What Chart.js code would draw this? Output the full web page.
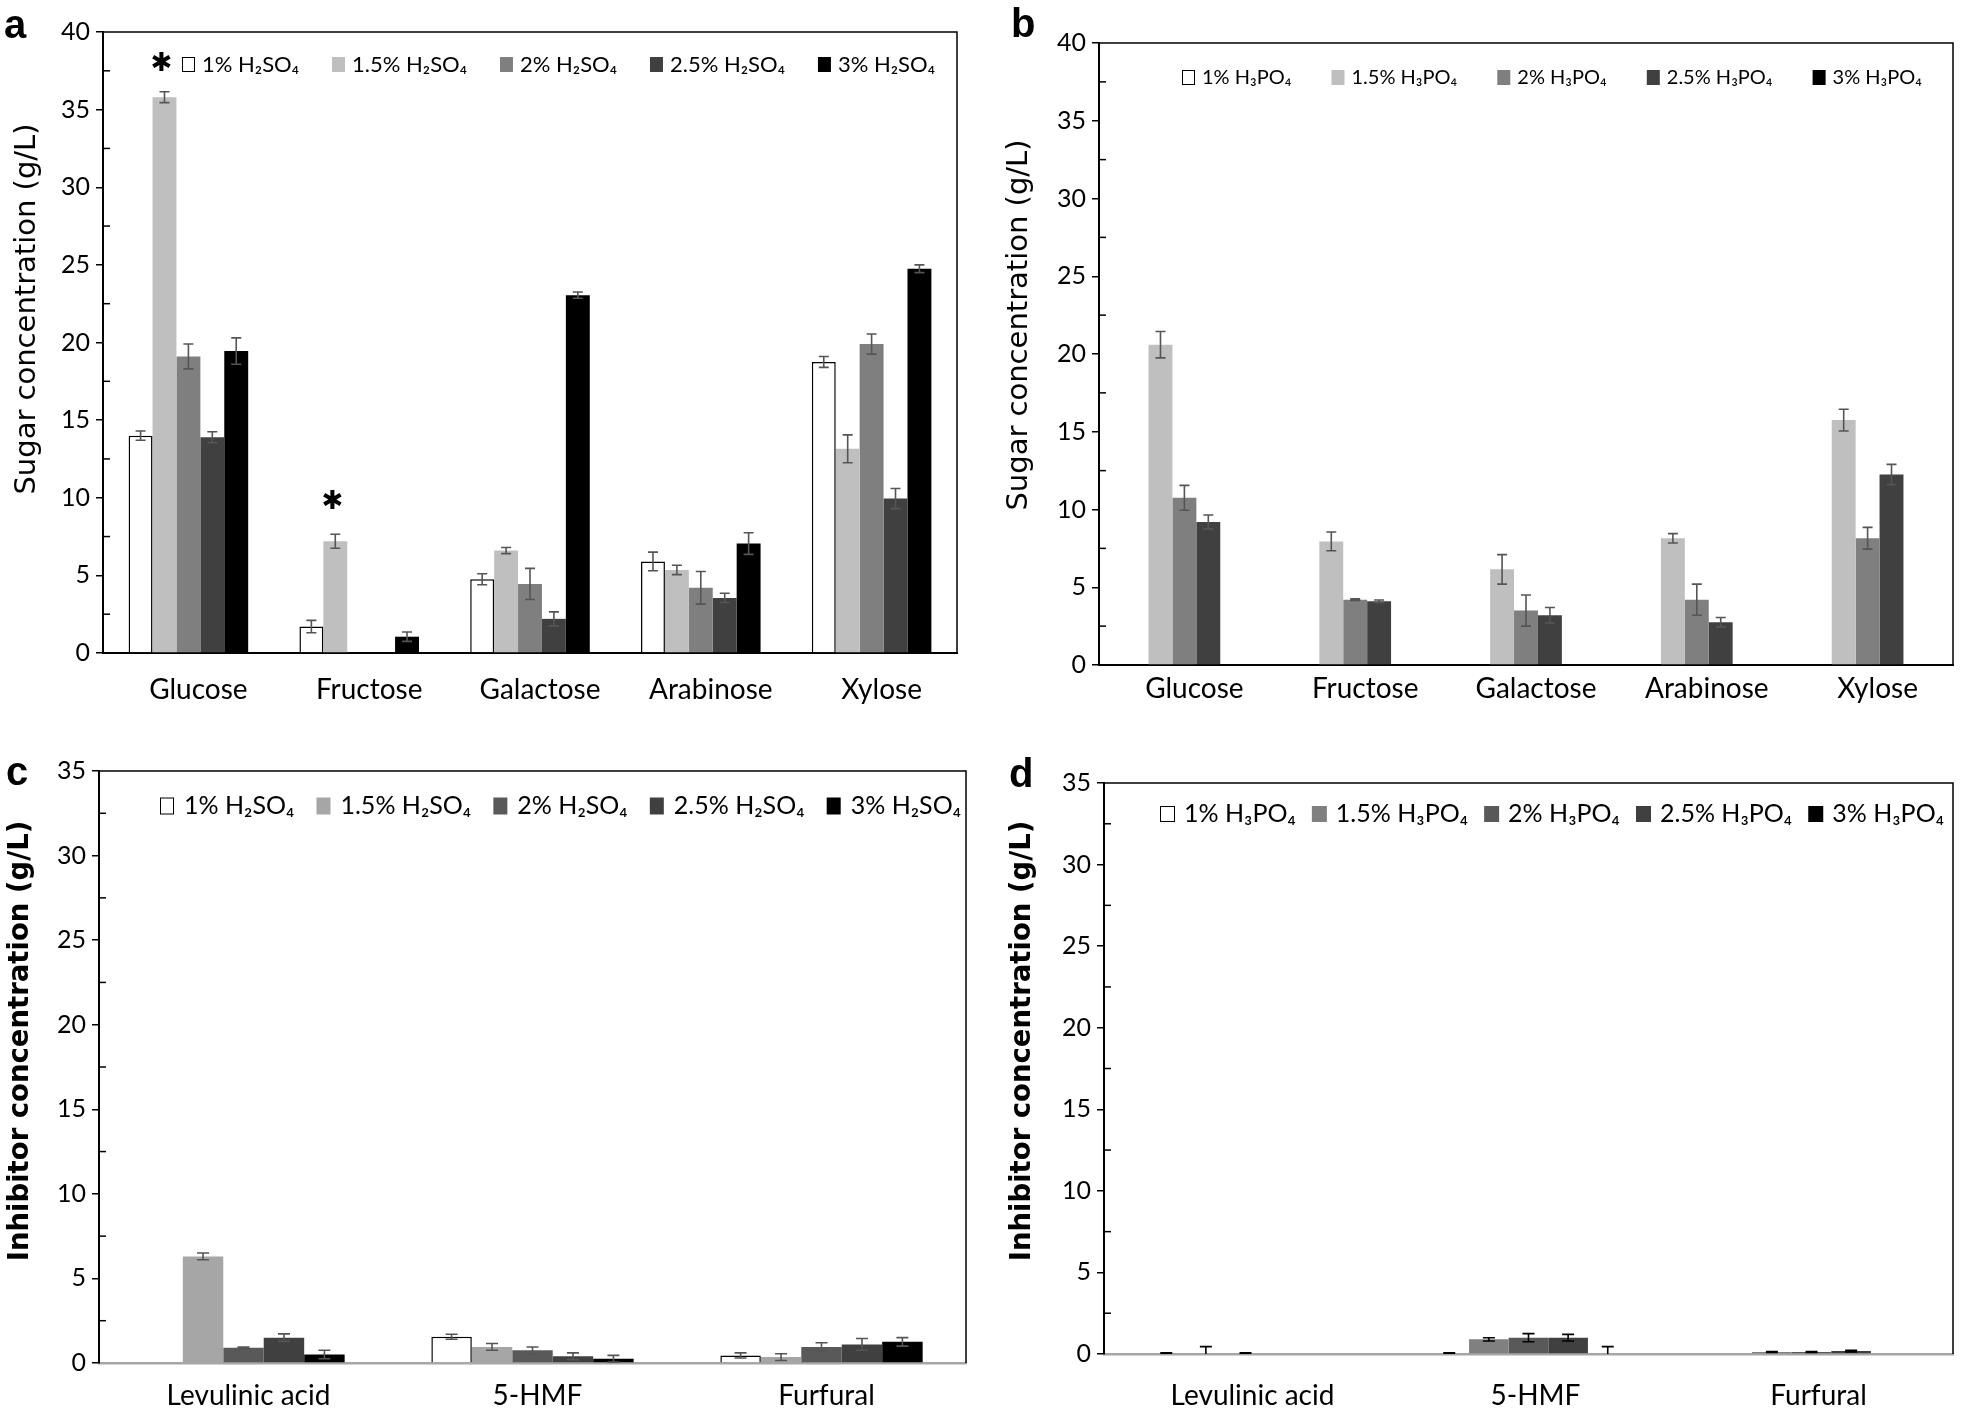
<!DOCTYPE html>
<html>
<head>
<meta charset="utf-8">
<title>Sugar and inhibitor concentrations</title>
<script src="https://cdn.jsdelivr.net/npm/chart.js@4.4.0/dist/chart.umd.min.js"></script>
<style>
  html, body { margin: 0; padding: 0; background: #fff; }
  #page { position: relative; width: 1961px; height: 1412px; overflow: hidden; }
  canvas { position: absolute; }
</style>
</head>
<body>
<div id="page">
  <canvas id="chartA" width="980" height="710" style="left:0;top:0"></canvas>
  <canvas id="chartB" width="981" height="710" style="left:980px;top:0"></canvas>
  <canvas id="chartC" width="980" height="692" style="left:0;top:720px"></canvas>
  <canvas id="chartD" width="981" height="692" style="left:980px;top:720px"></canvas>
</div>
<script>
// categories and series names
const sugars = ["Glucose", "Fructose", "Galactose", "Arabinose", "Xylose"];
const inhibitors = ["Levulinic acid", "5-HMF", "Furfural"];
const h2so4Labels = ["1% H₂SO₄", "1.5% H₂SO₄", "2% H₂SO₄", "2.5% H₂SO₄", "3% H₂SO₄"];
const h3po4Labels = ["1% H₃PO₄", "1.5% H₃PO₄", "2% H₃PO₄", "2.5% H₃PO₄", "3% H₃PO₄"];

// a: sugars, H2SO4 (rows = acid level, cols = sugar)
const sugarH2SO4 = [
  [14.0, 1.7, 4.75, 5.9, 18.75],
  [35.8, 7.2, 6.6, 5.35, 13.15],
  [19.1, null, 4.45, 4.2, 19.9],
  [13.9, null, 2.2, 3.55, 9.95],
  [19.45, 1.05, 23.05, 7.05, 24.75]
];
const sugarH2SO4Err = [
  [0.3, 0.4, 0.35, 0.6, 0.35],
  [0.35, 0.45, 0.2, 0.3, 0.9],
  [0.8, null, 1.0, 1.05, 0.65],
  [0.35, null, 0.45, 0.3, 0.65],
  [0.85, 0.3, 0.2, 0.7, 0.25]
];
// asterisks above significant bars in a
const sugarH2SO4Stars = [
  { category: "Glucose", series: 1, value: 37.9 },
  { category: "Fructose", series: 1, value: 9.7 }
];

// b: sugars, H3PO4
const sugarH3PO4 = [
  [null, null, null, null, null],
  [20.6, 7.95, 6.15, 8.15, 15.75],
  [10.75, 4.2, 3.5, 4.2, 8.15],
  [9.2, 4.1, 3.2, 2.75, 12.25],
  [null, null, null, null, null]
];
const sugarH3PO4Err = [
  [null, null, null, null, null],
  [0.85, 0.6, 0.95, 0.3, 0.7],
  [0.8, 0.05, 1.0, 1.0, 0.7],
  [0.45, 0.08, 0.5, 0.3, 0.65],
  [null, null, null, null, null]
];

// c: inhibitors, H2SO4
const inhibH2SO4 = [
  [null, 1.55, 0.45],
  [6.3, 0.95, 0.35],
  [0.9, 0.75, 0.95],
  [1.5, 0.4, 1.1],
  [0.5, 0.25, 1.25]
];
const inhibH2SO4Err = [
  [null, 0.15, 0.15],
  [0.2, 0.2, 0.2],
  [0.05, 0.2, 0.25],
  [0.22, 0.2, 0.35],
  [0.25, 0.2, 0.25]
];

// d: inhibitors, H3PO4
const inhibH3PO4 = [
  [0.05, 0.05, null],
  [0, 0.9, 0.12],
  [0.05, 1.0, 0.12],
  [null, 1.0, 0.18],
  [null, 0, null]
];
const inhibH3PO4Err = [
  [0.03, 0.03, null],
  [0.45, 0.1, 0.03],
  [0.03, 0.25, 0.03],
  [null, 0.2, 0.05],
  [null, 0.45, null]
];

Chart.defaults.font.family = "Lato, 'Liberation Sans', sans-serif";
Chart.defaults.color = "#000";

// error bars, asterisks, frame, minor ticks, legend, axis title, panel letter
const panelDecor = {
  id: "panelDecor",
  afterDatasetsDraw(chart, args, o) {
    const { ctx, chartArea: a } = chart;
    const y = chart.scales.y;
    ctx.save();
    ctx.beginPath();
    ctx.rect(a.left, a.top, a.right - a.left, a.bottom - a.top);
    ctx.clip();
    ctx.strokeStyle = o.errColor;
    ctx.lineWidth = 1.6;
    chart.data.datasets.forEach((ds, i) => {
      const meta = chart.getDatasetMeta(i);
      ds.data.forEach((v, j) => {
        const e = ds.errors[j];
        if (v == null || e == null) return;
        const x = meta.data[j].x;
        const y1 = y.getPixelForValue(v + e);
        const y2 = y.getPixelForValue(v - e);
        const h = o.cap / 2;
        ctx.beginPath();
        ctx.moveTo(x, y1); ctx.lineTo(x, y2);
        ctx.moveTo(x - h, y1); ctx.lineTo(x + h, y1);
        ctx.moveTo(x - h, y2); ctx.lineTo(x + h, y2);
        ctx.stroke();
      });
    });
    ctx.restore();

    (o.stars || []).forEach(s => {
      const meta = chart.getDatasetMeta(s.series);
      const el = meta.data[chart.data.labels.indexOf(s.category)];
      ctx.save();
      ctx.fillStyle = "#000";
      ctx.font = "26px 'DejaVu Sans'";
      ctx.textAlign = "center";
      ctx.textBaseline = "middle";
      ctx.fillText("✱", el.x - 3, y.getPixelForValue(s.value));
      ctx.restore();
    });
  },
  afterDraw(chart, args, o) {
    const { ctx, chartArea: a } = chart;
    const y = chart.scales.y;
    ctx.save();
    // top and right edges of the box
    ctx.strokeStyle = "#000";
    ctx.lineWidth = 1.5;
    ctx.beginPath();
    ctx.moveTo(a.left, a.top);
    ctx.lineTo(a.right, a.top);
    ctx.lineTo(a.right, a.bottom);
    ctx.stroke();
    // minor ticks, pointing inwards
    for (let v = 2.5; v < y.max; v += 5) {
      const py = y.getPixelForValue(v);
      ctx.beginPath();
      ctx.moveTo(a.left, py);
      ctx.lineTo(a.left + 7, py);
      ctx.stroke();
    }

    // legend
    const lg = o.legend;
    ctx.font = lg.font;
    const items = chart.data.datasets;
    const widths = items.map(ds => lg.boxW + lg.boxGap + ctx.measureText(ds.label).width);
    const total = widths.reduce((s, w) => s + w, 0);
    const gap = (lg.end - lg.start - total) / (items.length - 1);
    let lx = a.left + lg.start;
    const ly = a.top + lg.y;
    items.forEach((ds, i) => {
      ctx.fillStyle = ds.backgroundColor;
      ctx.fillRect(lx, ly - lg.boxH / 2, lg.boxW, lg.boxH);
      if (i === 0) {
        ctx.strokeStyle = "#000";
        ctx.lineWidth = 1;
        ctx.strokeRect(lx + 0.5, ly - lg.boxH / 2 + 0.5, lg.boxW - 1, lg.boxH - 1);
      }
      ctx.fillStyle = "#000";
      ctx.textAlign = "left";
      ctx.textBaseline = "middle";
      ctx.fillText(ds.label, lx + lg.boxW + lg.boxGap, ly);
      lx += widths[i] + gap;
    });

    // y axis title
    ctx.save();
    ctx.translate(o.title.x, o.title.y);
    ctx.rotate(-Math.PI / 2);
    ctx.font = o.title.font;
    ctx.textAlign = "center";
    ctx.textBaseline = "middle";
    ctx.fillStyle = "#000";
    ctx.fillText(o.title.text, 0, 0);
    ctx.restore();

    // panel letter
    ctx.font = "bold 40px 'Liberation Sans'";
    ctx.textAlign = "left";
    ctx.textBaseline = "alphabetic";
    ctx.fillStyle = "#000";
    ctx.fillText(o.letter, o.letterX, o.letterY);
    ctx.restore();
  }
};

function makePanel(id, p) {
  return new Chart(document.getElementById(id), {
    type: "bar",
    data: {
      labels: p.categories,
      datasets: p.labels.map((lab, i) => ({
        label: lab,
        data: p.values[i],
        errors: p.errors[i],
        backgroundColor: p.colors[i],
        borderColor: "#000",
        borderWidth: i === 0 ? 1.5 : 0,
        categoryPercentage: 0.7,
        barPercentage: 1.0
      }))
    },
    options: {
      responsive: false,
      animation: false,
      events: [],
      layout: { padding: p.padding },
      plugins: {
        legend: { display: false },
        tooltip: { enabled: false },
        panelDecor: p.decor
      },
      scales: {
        x: {
          grid: { display: true, drawOnChartArea: false, drawTicks: false },
          border: { color: p.xAxisColor, width: p.xAxisWidth },
          ticks: { font: { size: 28 }, padding: p.xPad, labelOffset: p.xShift, color: "#000" },
          afterFit: s => { s.height = p.xHeight; }
        },
        y: {
          min: 0,
          max: p.yMax,
          ticks: { stepSize: 5, font: { size: 25 }, padding: 6, color: "#000" },
          grid: { drawOnChartArea: false, tickLength: 7, tickColor: "#000", lineWidth: 1.5 },
          border: { color: "#000", width: 2 },
          afterFit: s => { s.width = p.yWidth; }
        }
      }
    },
    plugins: [panelDecor]
  });
}

const greysA = ["#ffffff", "#bfbfbf", "#7f7f7f", "#404040", "#000000"];
const greysC = ["#ffffff", "#a6a6a6", "#595959", "#404040", "#000000"];
const greysD = ["#ffffff", "#808080", "#595959", "#404040", "#000000"];

makePanel("chartA", {
  categories: sugars, labels: h2so4Labels, values: sugarH2SO4, errors: sugarH2SO4Err, colors: greysA,
  yMax: 40, yWidth: 103, xHeight: 57, xPad: 20, xShift: 10, xAxisColor: "#000", xAxisWidth: 2,
  padding: { top: 32, right: 23, left: 0, bottom: 0 },
  decor: {
    errColor: "#555", cap: 10, stars: sugarH2SO4Stars,
    letter: "a", letterX: 4, letterY: 38,
    title: { text: "Sugar concentration (g/L)", font: "29px 'DejaVu Sans'", x: 27, y: 309 },
    legend: { font: "22px Lato", start: 79, end: 832, y: 32.5, boxW: 13, boxH: 15, boxGap: 7 }
  }
});

makePanel("chartB", {
  categories: sugars, labels: h3po4Labels, values: sugarH3PO4, errors: sugarH3PO4Err, colors: greysA,
  yMax: 40, yWidth: 119, xHeight: 45, xPad: 7, xShift: 10, xAxisColor: "#000", xAxisWidth: 2,
  padding: { top: 43, right: 8, left: 0, bottom: 0 },
  decor: {
    errColor: "#555", cap: 10,
    letter: "b", letterX: 31, letterY: 37,
    title: { text: "Sugar concentration (g/L)", font: "29px 'DejaVu Sans'", x: 39, y: 325 },
    legend: { font: "20px Lato", start: 83, end: 823, y: 34.5, boxW: 13, boxH: 15, boxGap: 7 }
  }
});

makePanel("chartC", {
  categories: inhibitors, labels: h2so4Labels, values: inhibH2SO4, errors: inhibH2SO4Err, colors: greysC,
  yMax: 35, yWidth: 99, xHeight: 49, xPad: 16, xShift: 5, xAxisColor: "#a6a6a6", xAxisWidth: 2.5,
  padding: { top: 51, right: 14, left: 0, bottom: 0 },
  decor: {
    errColor: "#555", cap: 12,
    letter: "c", letterX: 6, letterY: 65,
    title: { text: "Inhibitor concentration (g/L)", font: "bold 27.5px 'DejaVu Sans'", x: 21, y: 321 },
    legend: { font: "25px Lato", start: 61, end: 862, y: 35, boxW: 14, boxH: 17, boxGap: 10 }
  }
});

makePanel("chartD", {
  categories: inhibitors, labels: h3po4Labels, values: inhibH3PO4, errors: inhibH3PO4Err, colors: greysD,
  yMax: 35, yWidth: 124, xHeight: 58, xPad: 25, xShift: 7, xAxisColor: "#a6a6a6", xAxisWidth: 2.5,
  padding: { top: 63, right: 8, left: 0, bottom: 0 },
  decor: {
    errColor: "#000", cap: 12,
    letter: "d", letterX: 29, letterY: 67,
    title: { text: "Inhibitor concentration (g/L)", font: "bold 27.5px 'DejaVu Sans'", x: 43, y: 321 },
    legend: { font: "25px Lato", start: 56, end: 840, y: 31, boxW: 15, boxH: 16, boxGap: 9 }
  }
});
</script>
</body>
</html>
